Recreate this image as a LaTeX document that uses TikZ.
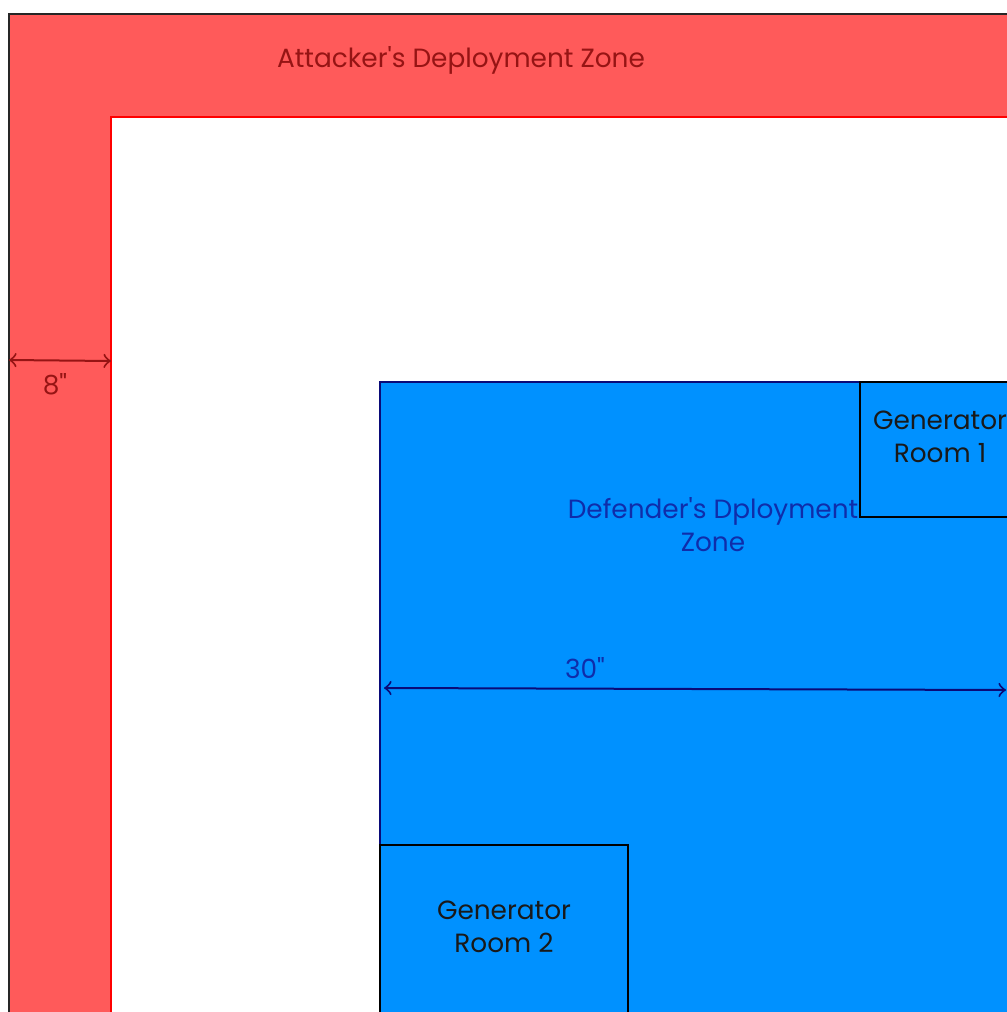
\documentclass[tikz,border=0pt]{standalone}
\usepackage{fontspec}
\setmainfont{Poppins}[Ligatures=TeXOff]
\usetikzlibrary{positioning}
\definecolor{attred}{RGB}{255,90,90}
\definecolor{defblue}{RGB}{0,145,255}
\definecolor{attlabel}{RGB}{150,20,20}
\definecolor{deflabel}{RGB}{15,45,170}
\definecolor{dimblue}{RGB}{10,10,120}

\begin{document}
\begin{tikzpicture}[
		x=0.1mm, y=-0.1mm,
		zonetext/.style={font=\fontsize{7.5}{9.4}\selectfont, align=center, inner sep=0pt},
		roomtext/.style={zonetext, text=black!90},
		room/.style={draw=black, line width=0.2mm},
		dimline/.style={<->, line width=0.2mm}
		]
		\useasboundingbox (0,0) rectangle (1007,1012);
		\clip (0,0) rectangle (1007,1012);
		% attacker zone
		\draw[fill=attred, draw=black!85, line width=0.2mm] (9,14) rectangle (1040,1040);
		\draw[fill=white, draw=red, line width=0.15mm] (111,117) rectangle (1040,1040);
		\node[zonetext, text=attlabel] (atttitle) at (461,60) {Attacker's Deployment Zone};
		\coordinate (eightL) at (9,360);
		\coordinate (eightR) at (111,361);
		\draw[dimline, draw=attlabel] (eightL) -- (eightR);
		\node[zonetext, text=attlabel] (eight) at (55,384) {8"};
		% defender zone
		\draw[fill=defblue, draw=dimblue, line width=0.2mm] (380,382) rectangle (1040,1040);
		\node[zonetext, text=deflabel] (deftitle) at (713,525) {Defender's Dployment\\Zone};
		\draw[room] (860,382) rectangle (1040,517);
		\node[roomtext] (genone) at (940,437) {Generator\\Room 1};
		\draw[room] (380,845) rectangle (628,1040);
		\node[roomtext] (gentwo) at (504,927) {Generator\\Room 2};
		\coordinate (thirtyL) at (384,688);
		\coordinate (thirtyR) at (1006,690);
		\draw[dimline, draw=dimblue] (thirtyL) -- (thirtyR);
		\node[zonetext, text=deflabel] (thirty) at (585,668) {30"};
	\end{tikzpicture}
\end{document}
